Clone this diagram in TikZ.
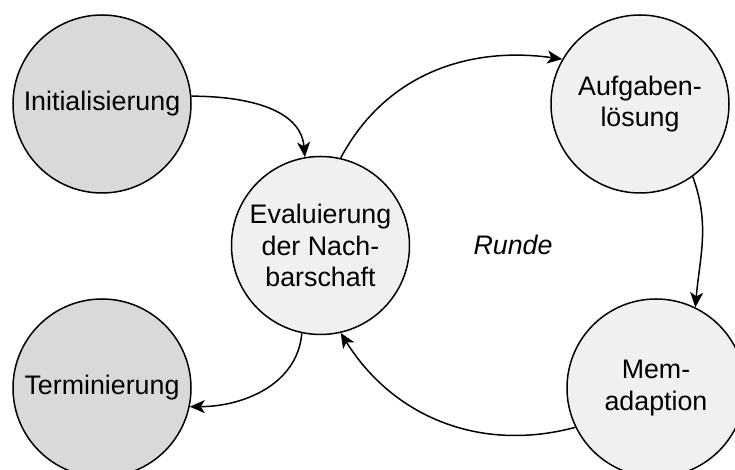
\documentclass[tikz,border=0pt]{standalone}
\usepackage{fontspec}
\setmainfont{Liberation Sans}
\usepackage{tikz}
\usetikzlibrary{arrows.meta,positioning}

\begin{document}
\begin{tikzpicture}[
        x=0.5pt, y=0.5pt,
        font=\fontsize{13.4}{15.8}\selectfont,
        state/.style={circle, draw, line width=0.75pt, minimum size=89pt, inner sep=0pt, align=center, fill=black!6},
        outer/.style={state, fill=black!15},
        arrow/.style={-{Stealth[length=7.5pt, width=6.5pt, inset=2pt]}, line width=0.75pt}
      ]
      \useasboundingbox (0,0) rectangle (735,470);
      \node[outer] (init) at (102,366) {Initialisierung};
      \node[outer] (term) at (102,82) {Terminierung};
      \node[state] (eval) at (320.5,224.5) {Evaluierung\\der Nach-\\barschaft};
      \node[state] (task) at (640,366) {Aufgaben-\\lösung};
      \node[state] (mem) at (656,82) {Mem-\\adaption};
      \node (round) at (513,225) {\itshape Runde};
      \draw[arrow] (init.5) to[out=0, in=95] (eval.100);
      \draw[arrow] (eval.77) to[out=62, in=172] (task.150);
      \draw[arrow] (task.-54) to[out=-70, in=85] (mem.64);
      \draw[arrow] (mem.-154) to[out=195, in=-58] (eval.-77);
      \draw[arrow] (eval.-102) to[out=-95, in=0] (term.-12);
    \end{tikzpicture}
\end{document}
